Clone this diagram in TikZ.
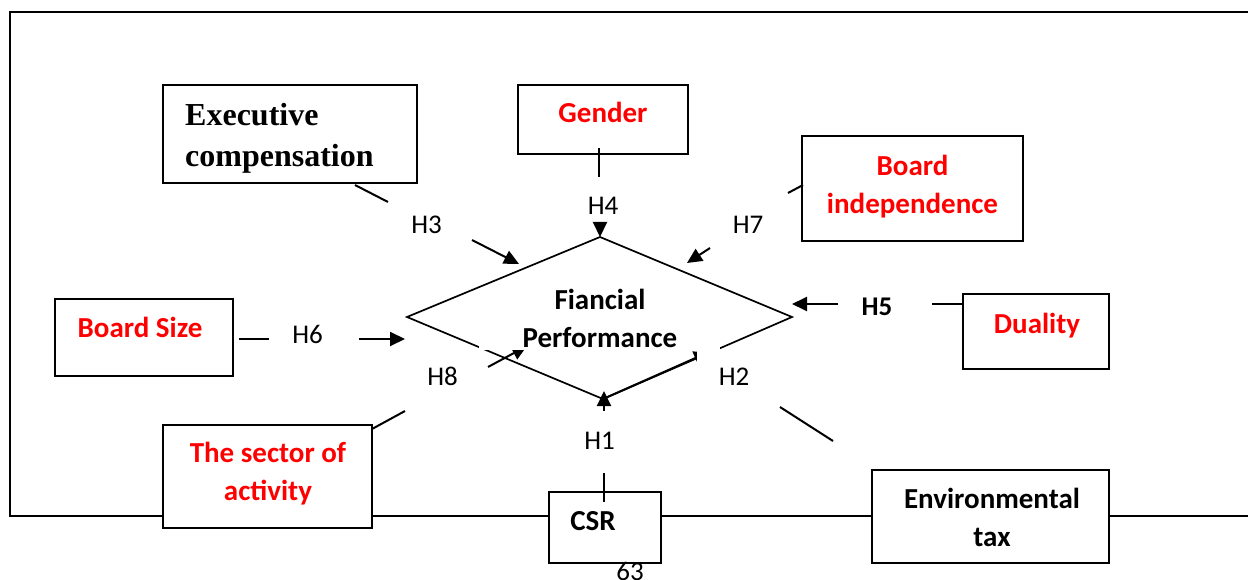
\documentclass[tikz,border=0pt]{standalone}
\usepackage{fontspec}
\setmainfont{Carlito}
\newfontfamily\tnr{Liberation Serif}
\usetikzlibrary{arrows.meta}
\definecolor{vred}{RGB}{255,0,0}
\begin{document}
\begin{tikzpicture}[x=1pt,y=-1pt,
  box/.style={draw, line width=1.8pt, fill=white, inner sep=0pt},
  lbl/.style={font=\fontsize{29}{38}\selectfont\bfseries, align=center, inner sep=0pt},
  redtxt/.style={lbl, text=vred},
  hyp/.style={font=\fontsize{27}{32}\selectfont, inner sep=0pt, anchor=base},
  conn/.style={line width=2pt},
  arr/.style={line width=2pt, -{Triangle[length=15pt,width=14pt]}},
  mask/.style={fill=white, draw=none}
]
\useasboundingbox (0,0) rectangle (1248,580);
% frame
\coordinate (f1) at (1248,12); \coordinate (f2) at (10,12);
\coordinate (f3) at (10,516);  \coordinate (f4) at (1248,516);
\draw[line width=2pt] (f1) -- (f2) -- (f3) -- (f4);
% boxes
\node[box, minimum width=254pt, minimum height=98pt] (exec) at (290,134) {};
\node[box, minimum width=170pt, minimum height=69pt] (gender) at (603,119.5) {};
\node[box, minimum width=221pt, minimum height=105pt] (bind) at (912.5,188.5) {};
\node[box, minimum width=146pt, minimum height=75pt] (dual) at (1036,331.5) {};
\node[box, minimum width=178pt, minimum height=77pt] (bsize) at (144,337.5) {};
\node[box, minimum width=209pt, minimum height=103pt] (sector) at (267.5,476.5) {};
\node[box, minimum width=112pt, minimum height=71pt] (csr) at (605,527.5) {};
\node[box, minimum width=237pt, minimum height=93pt] (env) at (990.5,516.5) {};
% box texts
\node[lbl, font=\tnr\fontsize{32}{41}\selectfont\bfseries, align=left, anchor=west] (exectxt) at (185,138.3) {Executive\\compensation};
\node[redtxt, anchor=base] (gendertxt) at (603,123) {Gender};
\node[redtxt] (bindtxt) at (912.5,187) {Board\\independence};
\node[redtxt, anchor=base] (dualtxt) at (1037,333) {Duality};
\node[redtxt, anchor=base] (bsizetxt) at (140,337) {Board Size};
\node[redtxt] (sectortxt) at (268,473.7) {The sector of\\activity};
\node[lbl, anchor=base] (csrtxt) at (593,530) {CSR};
\node[lbl] (envtxt) at (992,517.7) {Environmental\\tax};
% diamond
\coordinate (dl) at (407,317); \coordinate (dt) at (600,237);
\coordinate (dr) at (792,317); \coordinate (db) at (603,399);
\draw[line width=1.7pt, line join=miter] (dl) -- (dt) -- (dr) -- (db) -- cycle;
% connectors
\coordinate (c3a) at (355,185); \coordinate (c3b) at (388,202);
\coordinate (a3a) at (472,240); \coordinate (a3b) at (519,264);
\draw[conn] (c3a) -- (c3b); \draw[arr] (a3a) -- (a3b);
\coordinate (c4a) at (599,148); \coordinate (c4b) at (599,177);
\coordinate (a4a) at (600,223);
\draw[conn] (c4a) -- (c4b); \draw[arr] (a4a) -- (dt);
\coordinate (c7a) at (788,193); \coordinate (c7b) at (803,185);
\coordinate (a7a) at (710,248); \coordinate (a7b) at (687,263);
\draw[conn] (c7a) -- (c7b); \draw[arr] (a7a) -- (a7b);
\coordinate (c5a) at (932,304); \coordinate (c5b) at (963,304);
\coordinate (a5a) at (838,304); \coordinate (a5b) at (792,304);
\draw[conn] (c5a) -- (c5b); \draw[arr] (a5a) -- (a5b);
\coordinate (c6a) at (239,339); \coordinate (c6b) at (269,339);
\coordinate (a6a) at (359,339); \coordinate (a6b) at (405,339);
\draw[conn] (c6a) -- (c6b); \draw[arr] (a6a) -- (a6b);
\coordinate (c8a) at (372,429); \coordinate (c8b) at (405,411);
\coordinate (a8a) at (488,367); \coordinate (a8b) at (527,346);
\draw[conn] (c8a) -- (c8b); \draw[arr] (a8a) -- (a8b);
\coordinate (c1a) at (604,473); \coordinate (c1b) at (604,502);
\coordinate (a1a) at (604,411); \coordinate (a1b) at (604,391);
\draw[conn] (c1a) -- (c1b); \draw[arr] (a1a) -- (a1b);
\coordinate (c2a) at (780,407); \coordinate (c2b) at (833,441);
\coordinate (a2b) at (709,352);
\draw[conn] (c2a) -- (c2b); \draw[arr] (db) -- (a2b);
% white text areas
\path[mask] (479,290) rectangle (720,350);
\path[mask] (697,350) rectangle (780,400);
% diamond text
\node[lbl] (fp) at (600,318) {Fiancial\\Performance};
% hypothesis labels
\node[hyp] (h3) at (426.6,233.3) {H3};
\node[hyp] (h4) at (603,215) {H4};
\node[hyp] (h7) at (748,234) {H7};
\node[hyp, font=\fontsize{27}{32}\selectfont\bfseries] (h5) at (877,315) {H5};
\node[hyp] (h6) at (307.5,343.3) {H6};
\node[hyp] (h8) at (442.5,385) {H8};
\node[hyp] (h2) at (734,385) {H2};
\node[hyp] (h1) at (599.5,449.3) {H1};
\node[hyp] (pg) at (630,580.5) {63};
\end{tikzpicture}
\end{document}
